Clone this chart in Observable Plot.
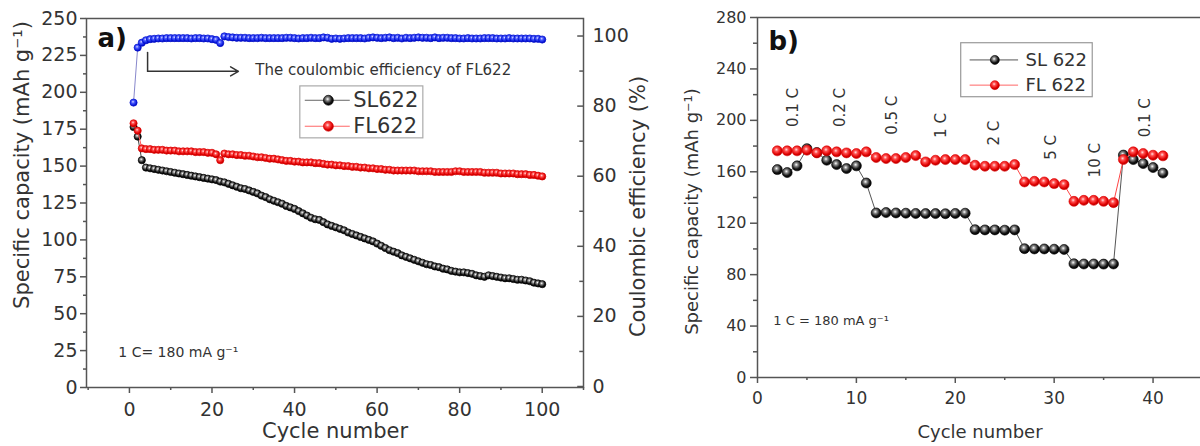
<!DOCTYPE html>
<html><head><meta charset="utf-8">
<script src="https://cdn.jsdelivr.net/npm/d3@7"></script>
<script src="https://cdn.jsdelivr.net/npm/@observablehq/plot@0.6"></script>
<style>
html,body{margin:0;padding:0;background:#fff;overflow:hidden;width:1200px;height:446px;}
#wrap{position:relative;width:1200px;height:446px;overflow:hidden;}
#wrap > svg{position:absolute;top:0;}
</style></head><body>
<svg width="0" height="0" style="position:absolute">
<defs>
<radialGradient id="gBlack" cx="42%" cy="38%" r="62%"><stop offset="0%" stop-color="#ffffff"/><stop offset="28%" stop-color="#8a8a8a"/><stop offset="70%" stop-color="#151515"/><stop offset="100%" stop-color="#000"/></radialGradient>
<radialGradient id="gRed" cx="42%" cy="38%" r="62%"><stop offset="0%" stop-color="#ffe0e0"/><stop offset="30%" stop-color="#ff5050"/><stop offset="75%" stop-color="#e00000"/><stop offset="100%" stop-color="#b00000"/></radialGradient>
<radialGradient id="gBlue" cx="42%" cy="38%" r="62%"><stop offset="0%" stop-color="#e0e0ff"/><stop offset="30%" stop-color="#5060ff"/><stop offset="75%" stop-color="#1020e0"/><stop offset="100%" stop-color="#0000b0"/></radialGradient>
</defs></svg>
<div id="wrap"></div>
<script>
// ---------- Panel a data ----------
const cycA = [1,2,3,4,5,6,7,8,9,10,11,12,13,14,15,16,17,18,19,20,21,22,23,24,25,26,27,28,29,30,31,32,33,34,35,36,37,38,39,40,41,42,43,44,45,46,47,48,49,50,51,52,53,54,55,56,57,58,59,60,61,62,63,64,65,66,67,68,69,70,71,72,73,74,75,76,77,78,79,80,81,82,83,84,85,86,87,88,89,90,91,92,93,94,95,96,97,98,99,100];
const slA = [176.5,170,154,149,148.5,148,147.5,147,146.5,146,145.5,145,144.5,144,143.5,143,142.5,142,141.5,141,140.5,139.5,139,138,137,136,135,134.5,133.5,132.5,131.5,130,129,127.5,126.5,125.5,124.5,123,122,121,119.5,118,116.5,115,114,113.5,112,110.5,109.5,108.5,107.5,106.5,105,104,103,102,101,100,99,97.5,96,94.5,93,92,91,89.5,88.5,87.5,86.5,85.5,84.5,83.5,83,82,81.5,80.5,80,79,78.5,78,78,77.5,77,76,75.5,75,76,75.5,75,74.5,74,74,73.5,73,73,72.5,72,71,70.5,70];
const flA = [179,174,162,161.5,161.5,161,161,161,160.5,160.5,160.5,160,160,160,160,159.5,159.5,159.5,159,159,158,154,158.5,158,158,157.5,157.5,157,157,156.5,156,156,155.5,155,155,154.5,154,153.5,153.5,153,153,152.5,152.5,152.5,152,152,151.5,151,151,150.5,150.5,150,150,149.5,149.5,149,149,148.5,148.5,148,148,147.5,147.5,147,147,147,147,147,147,146.5,146.5,146.5,146.5,146,146,146,146,146,146.5,146.5,146,146,146,146,146,145.5,145.5,145.5,145.5,145,145,145,145,144.5,144.5,144.5,144,144,143.5,143];
const ceA = [81,96.7,98.1,98.8,99.1,99.2,99.3,99.3,99.4,99.4,99.4,99.4,99.4,99.4,99.3,99.4,99.4,99.3,99.3,99.1,98.9,98.0,99.9,99.7,99.6,99.5,99.5,99.5,99.4,99.4,99.4,99.5,99.4,99.4,99.4,99.4,99.4,99.5,99.5,99.4,99.3,99.4,99.4,99.5,99.4,99.4,99.6,99.5,99.2,99.3,99.2,99.3,99.4,99.4,99.4,99.4,99.3,99.5,99.6,99.5,99.4,99.5,99.6,99.4,99.5,99.3,99.5,99.4,99.5,99.6,99.5,99.5,99.4,99.6,99.4,99.5,99.5,99.4,99.4,99.3,99.3,99.4,99.3,99.3,99.3,99.4,99.4,99.4,99.3,99.3,99.3,99.4,99.3,99.3,99.3,99.3,99.3,99.2,99.2,99.0];
const xMajorA = [0,20,40,60,80,100];
const xMinorA = [-10,10,30,50,70,90,110];
const yMajorA = [0,25,50,75,100,125,150,175,200,225,250];
const yMinorA = [12.5,37.5,62.5,87.5,112.5,137.5,162.5,187.5,212.5,237.5];
const ceMajor = [0,20,40,60,80,100];
const ceMinor = [10,30,50,70,90];
const seriesA = ["SL622","FL622"];

// ---------- Panel b data ----------
const cycB = [2,3,4,5,6,7,8,9,10,11,12,13,14,15,16,17,18,19,20,21,22,23,24,25,26,27,28,29,30,31,32,33,34,35,36,37,38,39,40,41];
const slB = [161.7,159.4,164.6,178,175,169,165.6,162.5,164.6,151.3,128,128.3,128,127.8,127.6,127.5,127.5,127.4,127.6,127.8,115,114.8,114.8,114.6,114.8,100.2,100,100,99.8,99.6,88.5,88.3,88.3,88.2,88.3,173,169.5,166.4,163.3,159];
const flB = [176.3,176.3,176.3,176.8,174.7,176.3,175.5,174.7,174.2,175.5,171.1,170.3,170.3,171.1,172.6,167.7,169,169.5,169.5,169.5,165.1,164.3,164.3,164.3,165.6,152.1,152.6,152.1,150.8,150,137,137.8,137.8,137,136,169.5,175.5,174.2,172.9,172.4];
const rateText = ["0.1 C","0.2 C","0.5 C","1 C","2 C","5 C","10 C","0.1 C"];
const rateX = [3.6,8.4,13.6,18.6,23.9,29.7,34.1,39.2];
const rateY = [210,210,204,196,190,179,169,202];
const xMajorB = [0,10,20,30,40];
const xMinorB = [5,15,25,35];
const yMajorB = [0,40,80,120,160,200,240,280];
const yMinorB = [20,60,100,140,180,220,260];
const seriesB = ["SL 622","FL 622"];

const dataA = cycA.map((c,i)=>({c, sl: slA[i], fl: flA[i], ce: ceA[i]}));
const dataB = cycB.map((c,i)=>({c, sl: slB[i], fl: flB[i]}));
const FONT = "DejaVu Sans, sans-serif";
const AX = "#555", TX = "#333";
const wrap = document.getElementById("wrap");

// ---------- Panel a (left axis) ----------
const pa = Plot.plot({
  width: 680, height: 446,
  marginLeft: 86, marginRight: 97, marginTop: 18, marginBottom: 59,
  style: {background: "transparent", fontFamily: FONT, fontSize: "19px", color: TX, overflow: "visible"},
  x: {domain: [-10.4, 110], axis: null},
  y: {domain: [0, 250], axis: null},
  marks: [
    Plot.frame({stroke: AX, strokeWidth: 1.5}),
    Plot.axisX({ticks: xMajorA, tickSize: 6, tickPadding: 9, fontSize: 19, label: null, stroke: AX, fill: TX, strokeWidth: 1.5}),
    Plot.axisX({ticks: xMinorA, tickSize: 3, tickFormat: () => "", label: null, stroke: AX, strokeWidth: 1.5}),
    Plot.axisY({ticks: yMajorA, tickSize: 6, tickPadding: 3, fontSize: 19, label: null, stroke: AX, fill: TX, strokeWidth: 1.5}),
    Plot.axisY({ticks: yMinorA, tickSize: 3, tickFormat: () => "", label: null, stroke: AX, strokeWidth: 1.5}),
    Plot.line(dataA, {x: "c", y: "sl", stroke: "#444", strokeWidth: 1}),
    Plot.dot(dataA, {x: "c", y: "sl", r: 3.6, fill: "url(#gBlack)", stroke: "#000", strokeWidth: 0.7}),
    Plot.line(dataA, {x: "c", y: "fl", stroke: "#f55", strokeWidth: 1}),
    Plot.dot(dataA, {x: "c", y: "fl", r: 3.6, fill: "url(#gRed)", stroke: "#d00", strokeWidth: 0.7}),
    // legend
    Plot.rect([0], {x1: 41.4, x2: 71.2, y1: 168.8, y2: 204, fill: "white", stroke: "#aaa", strokeWidth: 1.2}),
    Plot.ruleY([194.6], {x1: 42.6, x2: 53.5, stroke: "#666", strokeWidth: 1}),
    Plot.ruleY([177], {x1: 42.6, x2: 53.5, stroke: "#f66", strokeWidth: 1}),
    Plot.dot([0], {x: 48.2, y: 194.6, r: 5, fill: "url(#gBlack)", stroke: "#000", strokeWidth: 0.6}),
    Plot.dot([0], {x: 48.2, y: 177, r: 5, fill: "url(#gRed)", stroke: "#d00", strokeWidth: 0.6}),
    Plot.text([seriesA[0]], {x: 54.2, y: 194.6, text: d => d, textAnchor: "start", lineAnchor: "middle", fontSize: 21, fill: TX}),
    Plot.text([seriesA[1]], {x: 54.2, y: 177, text: d => d, textAnchor: "start", lineAnchor: "middle", fontSize: 21, fill: TX}),
    // annotation
    Plot.line([[4.4, 227], [4.4, 214.2]], {stroke: "#333", strokeWidth: 1.5}),
    Plot.arrow([0], {x1: 4.4, y1: 214.2, x2: 26.4, y2: 214.2, stroke: "#333", strokeWidth: 1.5, headLength: 9, bend: 0}),
    Plot.text(["The coulombic efficiency of FL622"], {x: 30.5, y: 215, text: d => d, textAnchor: "start", lineAnchor: "middle", fontSize: 15, fill: TX}),
    Plot.text(["1 C= 180 mA g\u207B\u00B9"], {x: -2.7, y: 23.7, text: d => d, textAnchor: "start", lineAnchor: "middle", fontSize: 14, fill: TX}),
    Plot.text(["a)"], {frameAnchor: "top-left", dx: 11, dy: 20, text: d => d, textAnchor: "start", lineAnchor: "middle", fontSize: 26, fontWeight: "bold", fill: "#111"}),
    Plot.text(["Cycle number"], {frameAnchor: "bottom", dy: 44, text: d => d, textAnchor: "middle", lineAnchor: "middle", fontSize: 21, fill: TX}),
    Plot.text(["Specific capacity (mAh g\u207B\u00B9)"], {frameAnchor: "left", dx: -64, dy: -38, rotate: -90, text: d => d, textAnchor: "middle", lineAnchor: "middle", fontSize: 21, fill: TX})
  ]
});
pa.style.left = "0px";
wrap.appendChild(pa);

// ---------- Panel a (right axis, coulombic efficiency) ----------
const pa2 = Plot.plot({
  width: 680, height: 446,
  marginLeft: 86, marginRight: 97, marginTop: 18, marginBottom: 60,
  style: {background: "transparent", fontFamily: FONT, fontSize: "19px", color: TX, overflow: "visible"},
  x: {domain: [-10.4, 110], axis: null},
  y: {domain: [0, 105], axis: null},
  marks: [
    Plot.axisY({anchor: "right", ticks: ceMajor, tickSize: 0, tickPadding: 9, fontSize: 19, label: null, fill: TX}),
    Plot.ruleY(ceMajor, {x1: 108.6, x2: 110, stroke: AX, strokeWidth: 1.5}),
    Plot.ruleY(ceMinor, {x1: 109.1, x2: 110, stroke: AX, strokeWidth: 1.5}),
    Plot.line(dataA, {x: "c", y: "ce", stroke: "#8888cc", strokeWidth: 1}),
    Plot.dot(dataA, {x: "c", y: "ce", r: 3.6, fill: "url(#gBlue)", stroke: "#0010d0", strokeWidth: 0.7}),
    Plot.text(["Coulombic efficiency (%)"], {frameAnchor: "right", dx: 55, dy: 4, rotate: -90, text: d => d, textAnchor: "middle", lineAnchor: "middle", fontSize: 21, fill: TX})
  ]
});
pa2.style.left = "0px";
wrap.appendChild(pa2);

// ---------- Panel b ----------
const pb = Plot.plot({
  width: 524, height: 446,
  marginLeft: 77, marginRight: 2, marginTop: 17, marginBottom: 69,
  style: {background: "transparent", fontFamily: FONT, fontSize: "16px", color: TX, overflow: "visible"},
  x: {domain: [0, 45], axis: null},
  y: {domain: [0, 280], axis: null},
  marks: [
    Plot.frame({stroke: AX, strokeWidth: 1.5}),
    Plot.axisX({ticks: xMajorB, tickSize: 6, tickPadding: 8, fontSize: 17, label: null, stroke: AX, fill: TX, strokeWidth: 1.5}),
    Plot.axisX({ticks: xMinorB, tickSize: 3, tickFormat: () => "", label: null, stroke: AX, strokeWidth: 1.5}),
    Plot.axisY({ticks: yMajorB, tickSize: 7, tickPadding: 4, fontSize: 16, label: null, stroke: AX, fill: TX, strokeWidth: 1.5}),
    Plot.axisY({ticks: yMinorB, tickSize: 4, tickFormat: () => "", label: null, stroke: AX, strokeWidth: 1.5}),
    Plot.line(dataB, {x: "c", y: "sl", stroke: "#555", strokeWidth: 1}),
    Plot.dot(dataB, {x: "c", y: "sl", r: 5, fill: "url(#gBlack)", stroke: "#000", strokeWidth: 0.6}),
    Plot.line(dataB, {x: "c", y: "fl", stroke: "#f44", strokeWidth: 1}),
    Plot.dot(dataB, {x: "c", y: "fl", r: 5, fill: "url(#gRed)", stroke: "#d00", strokeWidth: 0.6}),
    Plot.text(rateText, {x: (d, i) => rateX[i], y: (d, i) => rateY[i], text: d => d, rotate: -90, textAnchor: "middle", lineAnchor: "middle", fontSize: 15, fill: TX}),
    // legend
    Plot.rect([0], {x1: 20.6, x2: 33.9, y1: 218, y2: 260, fill: "white", stroke: "#999", strokeWidth: 1.2}),
    Plot.ruleY([247], {x1: 21.5, x2: 26.4, stroke: "#555", strokeWidth: 1}),
    Plot.ruleY([227.4], {x1: 21.5, x2: 26.4, stroke: "#f66", strokeWidth: 1}),
    Plot.dot([0], {x: 24, y: 247, r: 4.5, fill: "url(#gBlack)", stroke: "#000", strokeWidth: 0.6}),
    Plot.dot([0], {x: 24, y: 227.4, r: 4.5, fill: "url(#gRed)", stroke: "#d00", strokeWidth: 0.6}),
    Plot.text([seriesB[0]], {x: 27.1, y: 247, text: d => d, textAnchor: "start", lineAnchor: "middle", fontSize: 18, fill: TX}),
    Plot.text([seriesB[1]], {x: 27.1, y: 227.4, text: d => d, textAnchor: "start", lineAnchor: "middle", fontSize: 18, fill: TX}),
    Plot.text(["1 C = 180 mA g\u207B\u00B9"], {x: 1.6, y: 44.4, text: d => d, textAnchor: "start", lineAnchor: "middle", fontSize: 13, fill: TX}),
    Plot.text(["b)"], {frameAnchor: "top-left", dx: 11, dy: 24, text: d => d, textAnchor: "start", lineAnchor: "middle", fontSize: 26, fontWeight: "bold", fill: "#111"}),
    Plot.text(["Cycle number"], {frameAnchor: "bottom", dy: 55, text: d => d, textAnchor: "middle", lineAnchor: "middle", fontSize: 18, fill: TX}),
    Plot.text(["Specific capacity (mAh g\u207B\u00B9)"], {frameAnchor: "left", dx: -65, dy: 14, rotate: -90, text: d => d, textAnchor: "middle", lineAnchor: "middle", fontSize: 18, fill: TX})
  ]
});
pb.style.left = "680px";
pb.style.maxWidth = "none";
wrap.appendChild(pb);
</script>
</body></html>
